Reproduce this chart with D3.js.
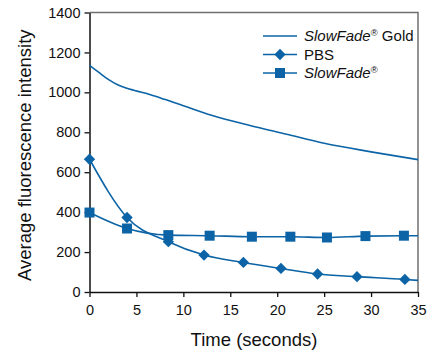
<!DOCTYPE html>
<html>
<head>
<meta charset="utf-8">
<script src="https://cdn.jsdelivr.net/npm/d3@7"></script>
<style>
  body { margin: 0; background: #fff; }
  svg { font-family: "Liberation Sans", Arial, sans-serif; }
</style>
</head>
<body>
<div id="chart"></div>
<script>
// Chart size
const w = 428;
const h = 350;

// Data
const goldTime = [0, 1, 2, 3, 4, 6, 8, 10, 13, 17, 21, 25, 30, 35];
const goldValue = [1135, 1100, 1065, 1038, 1020, 995, 965, 933, 885, 835, 790, 745, 702, 663];

const pbsTime = [0, 4, 8.4, 12.2, 16.4, 20.4, 24.3, 28.5, 33.6];
const pbsValue = [665, 373, 252, 185, 148, 118, 90, 77, 63];

const sfTime = [0, 4, 8.4, 12.8, 17.3, 21.4, 25.3, 29.4, 33.5];
const sfValue = [398, 318, 285, 282, 277, 277, 273, 280, 282];

const xTicks = [0, 5, 10, 15, 20, 25, 30, 35];
const yTicks = [0, 200, 400, 600, 800, 1000, 1200, 1400];

const blue = "#0c64a6";

const margin = { left: 89.5, right: 10, top: 12.5, bottom: 58 };

const svg = d3.select("#chart")
    .append("svg")
    .attr("width", w)
    .attr("height", h);

// Scales
const xScale = d3.scaleLinear()
    .domain([0, 35])
    .range([margin.left, w - margin.right]);

const yScale = d3.scaleLinear()
    .domain([0, 1400])
    .range([h - margin.bottom, margin.top]);

// Frame: top and right in grey
svg.append("path")
    .attr("d", `M${xScale(0)},${yScale(1400)}H${xScale(35)}V${yScale(0)}`)
    .attr("fill", "none")
    .attr("stroke", "#6f6f6f")
    .attr("stroke-width", 1.5);

// Axes
const xAxis = d3.axisBottom(xScale).tickValues(xTicks).tickSize(5).tickSizeOuter(0).tickFormat(d3.format("d"));
const yAxis = d3.axisLeft(yScale).tickValues(yTicks).tickSize(5).tickSizeOuter(0).tickFormat(d3.format("d"));

const gx = svg.append("g")
    .attr("transform", `translate(0,${yScale(0)})`)
    .call(xAxis);

const gy = svg.append("g")
    .attr("transform", `translate(${xScale(0)},0)`)
    .call(yAxis);

[gx, gy].forEach(g => {
    g.select(".domain").attr("stroke", "#111").attr("stroke-width", 1.5);
    g.selectAll(".tick line").attr("stroke", "#111").attr("stroke-width", 1.3);
    g.selectAll(".tick text")
        .attr("font-family", "'Liberation Sans', Arial, sans-serif")
        .attr("font-size", "14.5px")
        .attr("fill", "#111");
});
gx.selectAll(".tick text").attr("dy", "1.05em");
gy.selectAll(".tick text").attr("x", -9);

// Axis titles
svg.append("text")
    .attr("x", 254)
    .attr("y", 346)
    .attr("text-anchor", "middle")
    .attr("font-size", "18.5px")
    .attr("fill", "#111")
    .text("Time (seconds)");

svg.append("text")
    .attr("transform", `translate(31,${(yScale(0) + yScale(1400)) / 2 + 3}) rotate(-90)`)
    .attr("text-anchor", "middle")
    .attr("font-size", "18.5px")
    .attr("fill", "#111")
    .text("Average fluorescence intensity");

// Lines
const line = d3.line()
    .x(d => xScale(d[0]))
    .y(d => yScale(d[1]))
    .curve(d3.curveMonotoneX);

const gold = goldTime.map((t, i) => [t, goldValue[i]]);
const pbs = pbsTime.map((t, i) => [t, pbsValue[i]]).concat([[35, 58]]);
const sf = sfTime.map((t, i) => [t, sfValue[i]]).concat([[35, 282]]);

[gold, pbs, sf].forEach(d => {
    svg.append("path")
        .datum(d)
        .attr("d", line)
        .attr("fill", "none")
        .attr("stroke", blue)
        .attr("stroke-width", 1.6);
});

// Markers
svg.selectAll("path.pbs")
    .data(pbsTime.map((t, i) => [t, pbsValue[i]]))
    .enter()
    .append("path")
    .attr("class", "pbs")
    .attr("d", d3.symbol().type(d3.symbolDiamond2).size(82))
    .attr("transform", d => `translate(${xScale(d[0])},${yScale(d[1])})`)
    .attr("fill", blue);

svg.selectAll("rect.sf")
    .data(sfTime.map((t, i) => [t, sfValue[i]]))
    .enter()
    .append("rect")
    .attr("class", "sf")
    .attr("x", d => xScale(d[0]) - 5)
    .attr("y", d => yScale(d[1]) - 5)
    .attr("width", 10)
    .attr("height", 10)
    .attr("fill", blue);

// Legend
const legend = svg.append("g").attr("font-size", "15px").attr("fill", "#111");
const rows = [36, 54.5, 73];
rows.forEach(y => {
    legend.append("line")
        .attr("x1", 263).attr("x2", 297)
        .attr("y1", y).attr("y2", y)
        .attr("stroke", blue)
        .attr("stroke-width", 1.6);
});
legend.append("path")
    .attr("d", d3.symbol().type(d3.symbolDiamond2).size(82))
    .attr("transform", `translate(280,${rows[1]})`)
    .attr("fill", blue);
legend.append("rect")
    .attr("x", 275).attr("y", rows[2] - 5)
    .attr("width", 10).attr("height", 10)
    .attr("fill", blue);

const t1 = legend.append("text").attr("x", 304).attr("y", rows[0] + 5);
t1.append("tspan").attr("font-style", "italic").text("SlowFade");
t1.append("tspan").attr("font-size", "9.5px").attr("dy", -5).text("®");
t1.append("tspan").attr("dy", 5).text(" Gold");

legend.append("text").attr("x", 304).attr("y", rows[1] + 5).text("PBS");

const t3 = legend.append("text").attr("x", 304).attr("y", rows[2] + 5);
t3.append("tspan").attr("font-style", "italic").text("SlowFade");
t3.append("tspan").attr("font-size", "9.5px").attr("dy", -5).text("®");
</script>
</body>
</html>
